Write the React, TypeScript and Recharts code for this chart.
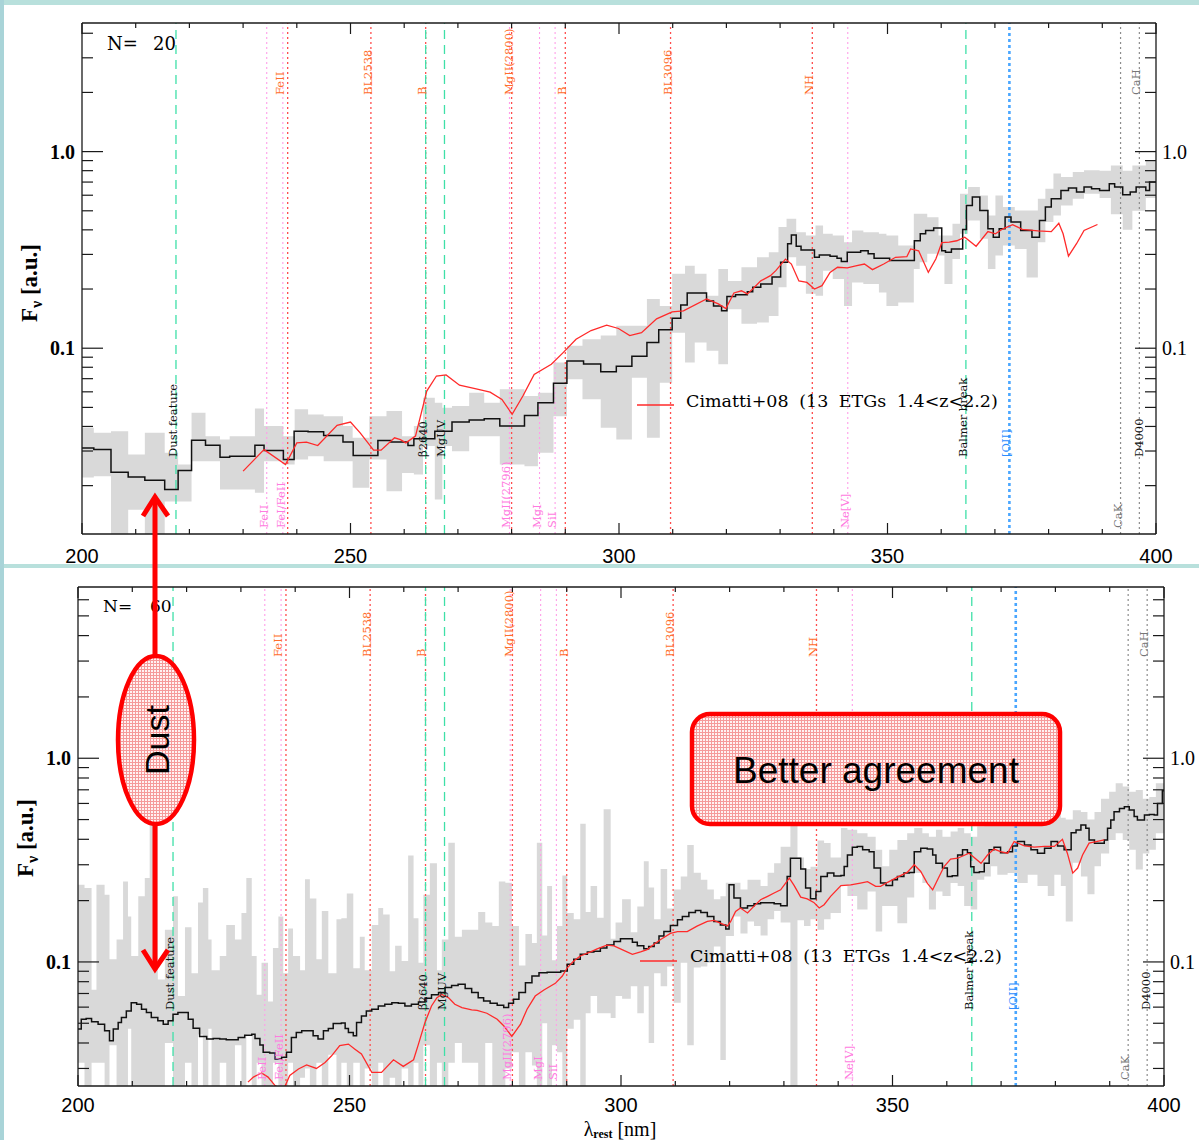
import React from "react";
import { ComposedChart, Area, Line, XAxis, YAxis, ReferenceLine } from "recharts";

const INK = "#1a1a1a";
const SERIF = "'DejaVu Serif', serif";
const TIMES = "'Liberation Serif', 'Times New Roman', serif";
const SANS = "'Liberation Sans', Arial, sans-serif";
const PAGE_W = 1199;

const waveTicks = [200, 210, 220, 230, 240, 250, 260, 270, 280, 290, 300, 310, 320, 330, 340, 350, 360, 370, 380, 390, 400];
const n20FluxTicks = [0.02, 0.03, 0.04, 0.05, 0.06, 0.07, 0.08, 0.09, 0.1, 0.2, 0.3, 0.4, 0.5, 0.6, 0.7, 0.8, 0.9, 1, 2, 3, 4];
const n60FluxTicks = [0.03, 0.04, 0.05, 0.06, 0.07, 0.08, 0.09, 0.1, 0.2, 0.3, 0.4, 0.5, 0.6, 0.7, 0.8, 0.9, 1, 2, 3, 4, 5, 6];

// ---- N=20 stack: scatter band (bin start, low, high) ----
const n20BandNm = [
  200.0, 202.2, 205.4, 208.6, 211.7, 215.4, 217.9, 220.4, 223.0, 225.7,
  227.5, 232.2, 233.9, 237.5, 239.6, 242.1, 245.0, 248.6, 250.4, 253.5,
  256.7, 259.6, 261.8, 263.5, 265.7, 267.1, 268.9, 272.1, 274.9, 277.8,
  282.4, 284.9, 287.8, 290.3,
  293.2, 296.6, 299.5, 302.4, 305.2, 307.6, 309.9, 312.3, 314.1, 316.3,
  318.5, 320.3, 322.8, 325.7, 327.9, 329.7, 331.2, 333.0, 334.8, 336.6,
  338.0, 339.8, 341.9, 343.4, 345.5, 348.4, 349.8, 352.0, 354.9, 356.0,
  357.4, 359.5, 360.6, 362.1, 363.5, 365.0, 367.2, 368.7, 370.1, 371.5,
  373.7, 375.9, 378.0, 379.4, 380.9, 382.3, 384.5, 386.6, 389.5, 391.6,
  393.8, 395.6, 398.1,
];
const n20BandLow = [
  0.0220, 0.0223, 0.0110, 0.0151, 0.0110, 0.0166, 0.0166, 0.0266, 0.0266, 0.0191,
  0.0191, 0.0184, 0.0266, 0.0256, 0.0272, 0.0282, 0.0266, 0.0266, 0.0195, 0.0272,
  0.0187, 0.0232, 0.0228, 0.0318, 0.0170, 0.0318, 0.0299, 0.0357, 0.0357, 0.0256,
  0.0251, 0.0294, 0.0451, 0.0695,
  0.055, 0.0394, 0.0343, 0.0708, 0.0350, 0.0668, 0.120, 0.0845, 0.107, 0.097,
  0.0829, 0.158, 0.133, 0.135, 0.146, 0.204, 0.290, 0.263, 0.189, 0.185,
  0.248, 0.225, 0.164, 0.216, 0.212, 0.192, 0.164, 0.171, 0.253, 0.274,
  0.302, 0.296, 0.212, 0.284, 0.382, 0.446, 0.360, 0.253, 0.296, 0.333,
  0.320, 0.229, 0.346, 0.438, 0.473, 0.532, 0.576, 0.611, 0.58, 0.48,
  0.40, 0.50, 0.58,
];
const n20BandHigh = [
  0.0394, 0.0371, 0.0378, 0.0288, 0.0371, 0.0294, 0.0256, 0.0470, 0.0357, 0.0343,
  0.0357, 0.0493, 0.0402, 0.0357, 0.0489, 0.0460, 0.0451, 0.0402, 0.0350, 0.0451,
  0.0479, 0.0357, 0.0402, 0.0560, 0.0528, 0.0498, 0.0508, 0.0594, 0.0528, 0.0618,
  0.0571, 0.0594, 0.0845, 0.1028,
  0.111, 0.116, 0.130, 0.130, 0.178, 0.164, 0.239, 0.263, 0.239, 0.185,
  0.253, 0.220, 0.258, 0.290, 0.308, 0.413, 0.455, 0.389, 0.374, 0.421,
  0.382, 0.374, 0.346, 0.397, 0.389, 0.382, 0.374, 0.333, 0.483, 0.483,
  0.464, 0.374, 0.374, 0.429, 0.611, 0.661, 0.598, 0.473, 0.598, 0.522,
  0.502, 0.502, 0.576, 0.648, 0.773, 0.743, 0.788, 0.803, 0.80, 0.85,
  0.80, 0.85, 0.90,
];

// ---- N=20 stacked spectrum (step start, flux) ----
const n20StackNm = [
  200.0, 202.2, 205.4, 208.6, 211.7, 215.4, 217.9, 220.4, 223.0, 225.7,
  227.5, 232.2, 233.9, 237.5, 239.5, 242.1, 245.0, 248.6, 250.5, 255.1,
  257.5, 260.7, 261.8, 265.7, 268.9, 272.1, 274.9, 277.8, 282.4, 284.9,
  287.8, 290.3, 293.4, 296.6, 299.5, 302.4, 305.2, 307.4, 309.9, 311.5,
  312.7, 316.3, 317.6, 319.1, 320.1, 321.7, 323.9, 324.9, 326.4, 328.5,
  330.1, 331.4, 332.1, 333.0, 333.9, 336.4, 337.3, 339.3, 340.6, 341.4,
  342.5, 345.0, 346.4, 347.5, 350.4, 355.0, 356.1, 357.1, 358.6, 360.1,
  360.8, 361.9, 364.0, 364.7, 365.8, 367.2, 368.7, 369.7, 370.8, 371.9,
  373.0, 374.8, 376.9, 378.3, 379.4, 380.5, 382.3, 383.7, 385.2, 386.6,
  388.0, 389.5, 391.3, 392.3, 393.8, 395.2, 396.3, 398.1, 398.8,
];
const n20StackFlux = [
  0.0311, 0.0305, 0.0234, 0.0221, 0.0213, 0.0191, 0.0239, 0.0340, 0.0321, 0.0279,
  0.0282, 0.0321, 0.0302, 0.0272, 0.0378, 0.0376, 0.0360, 0.0333, 0.0285, 0.0339,
  0.0333, 0.0320, 0.0346, 0.0378, 0.0421, 0.0431, 0.0438, 0.0402, 0.0455, 0.0528,
  0.0663, 0.0861, 0.083, 0.076, 0.081, 0.091, 0.107, 0.124, 0.142, 0.166,
  0.191, 0.174, 0.164, 0.155, 0.183, 0.187, 0.194, 0.204, 0.212, 0.230,
  0.274, 0.340, 0.377, 0.330, 0.316, 0.290, 0.298, 0.294, 0.287, 0.276,
  0.308, 0.313, 0.302, 0.287, 0.279, 0.352, 0.382, 0.397, 0.409, 0.313,
  0.308, 0.320, 0.402, 0.532, 0.587, 0.501, 0.405, 0.367, 0.405, 0.465,
  0.438, 0.397, 0.367, 0.446, 0.522, 0.575, 0.635, 0.653, 0.623, 0.661,
  0.648, 0.635, 0.687, 0.661, 0.604, 0.623, 0.661, 0.635, 0.700,
];

// ---- Cimatti+08 template, shown against the N=20 stack ----
const n20ModelNm = [
  230.0, 233.9, 237.9, 240.0, 241.8, 243.9, 247.5, 250.0, 251.8, 254.3,
  255.7, 258.2, 259.3, 260.3, 262.1, 263.2, 264.2, 266.0, 267.8, 270.3,
  273.2, 276.0, 278.2, 280.1, 282.1, 284.2, 287.4, 289.6, 292.0, 294.8,
  297.7, 299.9, 302.0, 304.2, 307.0, 309.9, 312.0, 316.3, 318.5, 319.9,
  321.4, 322.8, 323.9, 324.9, 326.4, 328.2, 329.2, 331.0, 332.1, 333.5,
  335.0, 336.4, 337.8, 339.3, 340.7, 342.5, 344.3, 345.7, 347.2, 349.3,
  351.5, 353.6, 354.3, 355.8, 357.6, 359.0, 360.1, 361.5, 362.9, 364.4,
  366.5, 368.7, 370.1, 371.5, 373.3, 375.1, 378.0, 380.5, 381.9, 382.7,
  383.7, 385.2, 386.6, 389.1,
];
const n20ModelFlux = [
  0.0237, 0.0305, 0.0256, 0.0330, 0.0333, 0.0320, 0.0405, 0.0421, 0.0371, 0.0303,
  0.0303, 0.0350, 0.0343, 0.0330, 0.0357, 0.0470, 0.0605, 0.0722, 0.0731, 0.0648,
  0.0623, 0.0598, 0.0549, 0.0461, 0.0571, 0.0736, 0.0828, 0.095, 0.111, 0.123,
  0.131, 0.126, 0.116, 0.120, 0.141, 0.153, 0.155, 0.178, 0.168, 0.159,
  0.191, 0.196, 0.189, 0.200, 0.220, 0.234, 0.248, 0.284, 0.268, 0.220,
  0.216, 0.200, 0.208, 0.243, 0.258, 0.256, 0.263, 0.268, 0.251, 0.268,
  0.290, 0.292, 0.320, 0.313, 0.243, 0.284, 0.344, 0.346, 0.352, 0.367,
  0.330, 0.392, 0.382, 0.405, 0.425, 0.402, 0.395, 0.392, 0.432, 0.382,
  0.294, 0.340, 0.397, 0.426,
];

// ---- N=60 stack: scatter band ----
const n60BandNm = [
  200.0, 201.2, 202.5, 203.4, 204.9, 205.8, 207.1, 208.3, 209.2, 209.8,
  211.1, 212.3, 213.2, 214.7, 216.0, 217.5, 218.4, 219.7, 220.9, 222.1,
  223.0, 224.0, 224.6, 226.1, 227.3, 228.9, 230.1, 231.0, 232.0, 232.9,
  233.8, 235.0, 235.9, 236.9, 237.8, 238.7, 239.6, 240.9, 241.8, 242.7,
  243.9, 244.9, 246.1, 247.6, 248.5, 249.5, 250.7, 251.9, 252.8, 254.1,
  255.3, 256.2, 257.4, 258.4, 259.6, 260.8, 261.8, 262.7, 263.6, 264.8,
  266.1, 267.0, 268.2, 269.4, 270.7, 273.7, 275.0, 276.3, 277.5, 278.7,
  279.9, 281.2, 282.4, 283.6, 284.5, 285.5, 286.4, 287.3, 288.2, 289.2,
  290.1, 291.3, 292.5, 293.5, 294.4, 295.6, 296.8, 298.1, 299.0, 300.2,
  301.8, 303.0, 304.2, 305.1, 306.1, 307.3, 308.5, 309.7, 311.0, 312.2,
  313.4, 314.7, 315.9, 317.1, 318.3, 319.3, 320.8, 322.0, 323.3, 324.5,
  325.7, 327.0, 328.2, 329.4, 331.2, 332.5, 333.7, 334.9, 336.2, 337.4,
  338.6, 340.5, 341.7, 343.5, 345.4, 346.9, 348.1, 349.4, 350.9, 352.7,
  354.0, 355.5, 356.7, 358.0, 359.2, 360.7, 362.0, 363.2, 364.4, 365.6,
  366.9, 368.1, 369.3, 371.2, 373.0, 374.9, 376.7, 378.6, 379.8, 381.0,
  381.9, 383.2, 384.7, 385.9, 387.2, 388.4, 389.9, 391.1, 392.4, 393.6,
  394.8, 396.1, 397.3, 398.5,
];
const n60BandLow = [
  0.032, 0.020, 0.032, 0.032, 0.020, 0.039, 0.020, 0.020, 0.047, 0.020,
  0.020, 0.020, 0.020, 0.020, 0.040, 0.020, 0.020, 0.032, 0.020, 0.044,
  0.020, 0.047, 0.020, 0.032, 0.020, 0.039, 0.020, 0.044, 0.020, 0.032,
  0.020, 0.020, 0.032, 0.020, 0.020, 0.032, 0.020, 0.027, 0.030, 0.020,
  0.032, 0.020, 0.035, 0.020, 0.032, 0.020, 0.032, 0.020, 0.030, 0.020,
  0.032, 0.020, 0.027, 0.020, 0.030, 0.020, 0.032, 0.020, 0.039, 0.020,
  0.032, 0.020, 0.032, 0.040, 0.032, 0.020, 0.040, 0.020, 0.020, 0.030,
  0.036, 0.020, 0.036, 0.031, 0.020, 0.050, 0.020, 0.039, 0.036, 0.020,
  0.047, 0.052, 0.020, 0.056, 0.068, 0.056, 0.056, 0.053, 0.068, 0.066,
  0.076, 0.056, 0.076, 0.040, 0.088, 0.076, 0.095, 0.063, 0.099, 0.039,
  0.094, 0.095, 0.099, 0.119, 0.033, 0.134, 0.167, 0.138, 0.158, 0.150,
  0.135, 0.162, 0.178, 0.156, 0.020, 0.160, 0.150, 0.162, 0.144, 0.162,
  0.174, 0.236, 0.211, 0.181, 0.222, 0.141, 0.188, 0.188, 0.155, 0.207,
  0.273, 0.244, 0.181, 0.222, 0.211, 0.244, 0.236, 0.188, 0.181, 0.253,
  0.263, 0.295, 0.268, 0.273, 0.244, 0.268, 0.236, 0.211, 0.268, 0.236,
  0.158, 0.307, 0.263, 0.215, 0.295, 0.341, 0.397, 0.428, 0.397, 0.355,
  0.284, 0.341, 0.355, 0.428,
];
const n60BandHigh = [
  0.239, 0.231, 0.073, 0.239, 0.214, 0.103, 0.129, 0.248, 0.167, 0.107,
  0.210, 0.258, 0.670, 0.082, 0.144, 0.210, 0.068, 0.148, 0.088, 0.196,
  0.231, 0.129, 0.091, 0.107, 0.152, 0.129, 0.174, 0.258, 0.107, 0.069,
  0.099, 0.064, 0.117, 0.167, 0.088, 0.146, 0.107, 0.091, 0.255, 0.205,
  0.103, 0.178, 0.088, 0.162, 0.164, 0.217, 0.093, 0.133, 0.091, 0.152,
  0.184, 0.171, 0.090, 0.120, 0.101, 0.333, 0.164, 0.099, 0.214, 0.305,
  0.091, 0.129, 0.385, 0.133, 0.144, 0.176, 0.156, 0.150, 0.248, 0.245,
  0.150, 0.096, 0.137, 0.124, 0.385, 0.135, 0.236, 0.102, 0.150, 0.266,
  0.174, 0.162, 0.477, 0.176, 0.236, 0.165, 0.562, 0.130, 0.156, 0.203,
  0.140, 0.187, 0.312, 0.232, 0.162, 0.286, 0.183, 0.227, 0.263, 0.375,
  0.274, 0.253, 0.227, 0.203, 0.210, 0.245, 0.245, 0.227, 0.253, 0.253,
  0.236, 0.274, 0.305, 0.368, 0.755, 0.326, 0.286, 0.293, 0.395, 0.384,
  0.326, 0.455, 0.446, 0.428, 0.412, 0.355, 0.295, 0.355, 0.397, 0.428,
  0.455, 0.428, 0.412, 0.446, 0.412, 0.437, 0.455, 0.428, 0.412, 0.463,
  0.540, 0.520, 0.510, 0.500, 0.500, 0.480, 0.556, 0.578, 0.589, 0.510,
  0.500, 0.556, 0.545, 0.500, 0.545, 0.633, 0.685, 0.753, 0.726, 0.685,
  0.698, 0.633, 0.646, 0.753,
];

// ---- N=60 stacked spectrum ----
const n60StackNm = [
  200.0, 200.6, 201.5, 202.5, 203.7, 204.9, 205.8, 206.5, 207.4, 208.0,
  208.9, 209.8, 210.8, 211.7, 212.6, 213.5, 214.7, 215.7, 216.6, 217.5,
  218.4, 219.7, 220.3, 221.2, 222.4, 223.7, 224.9, 226.1, 227.3, 228.6,
  229.5, 230.7, 232.0, 232.6, 233.5, 234.1, 235.3, 236.3, 237.5, 238.4,
  239.3, 240.2, 241.2, 242.4, 243.3, 244.2, 245.2, 246.1, 247.0, 248.5,
  249.2, 249.8, 250.7, 251.3, 252.2, 253.1, 254.1, 255.3, 256.5, 257.8,
  259.0, 260.2, 261.4, 262.7, 263.9, 265.1, 266.4, 267.6, 268.8, 270.0,
  271.3, 272.5, 273.7, 274.7, 275.9, 277.2, 278.4, 279.3, 280.2, 281.2,
  282.4, 283.6, 284.9, 286.4, 287.9, 288.9, 290.1, 291.3, 292.5, 293.8,
  295.0, 296.2, 297.4, 298.7, 299.9, 301.1, 302.1, 303.0, 304.2, 305.1,
  306.1, 307.0, 307.9, 309.1, 310.4, 311.3, 312.5, 313.7, 314.7, 315.9,
  317.1, 318.3, 319.3, 319.9, 320.8, 322.0, 323.3, 324.5, 325.7, 327.0,
  328.2, 329.4, 330.6, 331.2, 332.2, 333.1, 334.0, 334.9, 335.9, 336.8,
  338.0, 339.2, 340.5, 341.1, 341.7, 342.6, 343.5, 344.5, 345.7, 346.6,
  347.8, 348.8, 350.0, 350.9, 352.1, 353.1, 354.0, 355.2, 356.4, 357.4,
  358.0, 359.2, 360.1, 361.0, 362.0, 362.9, 363.8, 364.4, 365.0, 366.0,
  366.9, 367.8, 368.7, 369.9, 371.2, 372.1, 373.0, 374.3, 375.5, 376.7,
  378.0, 379.2, 380.4, 381.6, 382.9, 383.8, 384.7, 385.6, 386.2, 387.2,
  388.1, 389.0, 389.6, 390.2, 390.8, 391.8, 392.7, 393.6, 394.5, 395.1,
  396.4, 397.3, 398.2, 398.8, 399.7,
];
const n60StackFlux = [
  0.0468, 0.0523, 0.0527, 0.0508, 0.0495, 0.0459, 0.0410, 0.0468, 0.0504, 0.0533,
  0.0575, 0.0631, 0.0620, 0.0586, 0.0564, 0.0533, 0.0514, 0.0495, 0.0514, 0.0554,
  0.0564, 0.0564, 0.0523, 0.0473, 0.0431, 0.0418, 0.0421, 0.0418, 0.0415, 0.0415,
  0.0426, 0.0437, 0.0442, 0.0421, 0.0391, 0.0360, 0.0357, 0.0334, 0.0340, 0.0360,
  0.0426, 0.0451, 0.0459, 0.0459, 0.0434, 0.0418, 0.0459, 0.0471, 0.0499, 0.0501,
  0.0471, 0.0451, 0.0434, 0.0504, 0.0543, 0.0575, 0.0586, 0.0608, 0.0620, 0.0631,
  0.0627, 0.0608, 0.0620, 0.0636, 0.0664, 0.0691, 0.0707, 0.0748, 0.0767, 0.0776,
  0.0740, 0.0707, 0.0668, 0.0643, 0.0627, 0.0613, 0.0597, 0.0627, 0.0655, 0.0707,
  0.0791, 0.0853, 0.0885, 0.0891, 0.0891, 0.0902, 0.0973, 0.103, 0.109, 0.112,
  0.113, 0.117, 0.121, 0.126, 0.130, 0.130, 0.125, 0.120, 0.116, 0.119,
  0.124, 0.134, 0.141, 0.151, 0.161, 0.167, 0.175, 0.179, 0.175, 0.167,
  0.158, 0.152, 0.145, 0.239, 0.206, 0.184, 0.189, 0.193, 0.195, 0.195,
  0.193, 0.189, 0.263, 0.323, 0.323, 0.286, 0.231, 0.204, 0.222, 0.263,
  0.273, 0.264, 0.266, 0.294, 0.335, 0.366, 0.369, 0.355, 0.348, 0.289,
  0.244, 0.237, 0.253, 0.263, 0.273, 0.275, 0.348, 0.362, 0.358, 0.335,
  0.305, 0.289, 0.263, 0.265, 0.335, 0.355, 0.344, 0.293, 0.275, 0.277,
  0.305, 0.355, 0.366, 0.344, 0.348, 0.371, 0.390, 0.375, 0.355, 0.342,
  0.362, 0.390, 0.371, 0.355, 0.431, 0.444, 0.470, 0.453, 0.397, 0.383,
  0.383, 0.397, 0.453, 0.498, 0.546, 0.567, 0.578, 0.557, 0.517, 0.498,
  0.526, 0.530, 0.526, 0.600, 0.692,
];

// ---- Cimatti+08 template, shown against the N=60 stack ----
const n60ModelNm = [
  231.3, 232.3, 233.8, 235.0, 236.3, 237.8, 239.0, 240.6, 242.1, 243.9,
  245.5, 246.7, 248.2, 249.8, 251.0, 252.2, 254.1, 255.9, 258.1, 259.9,
  261.8, 262.7, 263.9, 265.1, 266.1, 267.0, 268.2, 269.4, 270.7, 272.5,
  273.5, 275.3, 277.2, 278.4, 279.9, 281.5, 282.7, 284.2, 285.8, 287.9,
  289.2, 290.1, 291.3, 292.5, 294.4, 295.6, 297.4, 298.7, 300.2, 302.1,
  303.6, 304.8, 306.1, 307.3, 309.1, 310.4, 312.2, 314.0, 315.9, 317.1,
  318.3, 319.6, 320.2, 321.1, 322.0, 323.3, 324.5, 325.7, 327.0, 328.2,
  329.4, 331.0, 331.9, 333.1, 334.3, 335.5, 336.5, 337.4, 338.6, 340.5,
  342.3, 344.1, 345.4, 346.9, 347.8, 349.1, 350.9, 352.7, 354.0, 355.2,
  356.4, 357.4, 358.3, 359.5, 360.7, 362.0, 364.1, 366.3, 367.5, 368.7,
  369.9, 371.2, 372.4, 374.3, 376.1, 378.0, 379.8, 381.3, 382.2, 383.2,
  384.1, 385.0, 386.2, 387.5, 389.0,
];
const n60ModelFlux = [
  0.0257, 0.0272, 0.0285, 0.0272, 0.0247, 0.0235, 0.0277, 0.0298, 0.0312, 0.0300,
  0.0321, 0.0346, 0.0388, 0.0395, 0.0373, 0.0353, 0.0287, 0.0287, 0.0331, 0.0307,
  0.0331, 0.0395, 0.0504, 0.0608, 0.0668, 0.0693, 0.0668, 0.0620, 0.0597, 0.0581,
  0.0579, 0.0560, 0.0523, 0.0486, 0.0431, 0.0495, 0.0586, 0.0680, 0.0728, 0.0785,
  0.0853, 0.0936, 0.101, 0.107, 0.112, 0.116, 0.121, 0.120, 0.115, 0.109,
  0.112, 0.115, 0.122, 0.129, 0.138, 0.141, 0.141, 0.150, 0.158, 0.160,
  0.155, 0.150, 0.158, 0.177, 0.184, 0.174, 0.188, 0.202, 0.210, 0.218,
  0.226, 0.258, 0.237, 0.208, 0.204, 0.196, 0.184, 0.191, 0.210, 0.237,
  0.239, 0.244, 0.248, 0.235, 0.235, 0.246, 0.261, 0.275, 0.300, 0.278,
  0.244, 0.226, 0.253, 0.294, 0.320, 0.323, 0.342, 0.305, 0.335, 0.358,
  0.348, 0.342, 0.390, 0.371, 0.366, 0.369, 0.369, 0.400, 0.342, 0.273,
  0.289, 0.335, 0.383, 0.390, 0.397,
];

// spectral features: marker lines and their rotated tags
const featureLines = [
  { nm: 217.5, kind: "dust" }, { nm: 234.4, kind: "pink" }, { nm: 237.4, kind: "pink" },
  { nm: 238.3, kind: "red" }, { nm: 253.8, kind: "red" }, { nm: 264.0, kind: "red" },
  { nm: 264.0, kind: "dust" }, { nm: 267.5, kind: "dust" }, { nm: 279.6, kind: "pink" },
  { nm: 280.0, kind: "red" }, { nm: 285.2, kind: "pink" }, { nm: 288.1, kind: "pink" },
  { nm: 290.0, kind: "red" }, { nm: 309.6, kind: "red" }, { nm: 336.0, kind: "red" },
  { nm: 342.6, kind: "pink" }, { nm: 364.6, kind: "dust" }, { nm: 372.7, kind: "blue" },
  { nm: 393.4, kind: "gray" }, { nm: 396.9, kind: "gray" },
];

const featureTags = [
  { nm: 217.5, text: "Dust feature", tone: "black", slot: "mid" },
  { nm: 234.4, text: "FeII", tone: "pink", slot: "low" },
  { nm: 237.4, text: "FeII", tone: "orange", slot: "top" },
  { nm: 237.6, text: "FeI/FeII", tone: "pink", slot: "low" },
  { nm: 253.8, text: "BL2538", tone: "orange", slot: "top" },
  { nm: 263.8, text: "B", tone: "orange", slot: "top" },
  { nm: 264.0, text: "β2640", tone: "black", slot: "mid" },
  { nm: 267.5, text: "MgUV", tone: "black", slot: "mid" },
  { nm: 280.0, text: "MgII(2800)", tone: "orange", slot: "top" },
  { nm: 279.6, text: "MgII(2796)", tone: "pink", slot: "low" },
  { nm: 285.2, text: "MgI", tone: "pink", slot: "low" },
  { nm: 288.1, text: "SiI", tone: "pink", slot: "low" },
  { nm: 290.0, text: "B", tone: "orange", slot: "top" },
  { nm: 309.6, text: "BL3096", tone: "orange", slot: "top" },
  { nm: 336.0, text: "NH", tone: "orange", slot: "top" },
  { nm: 342.6, text: "Ne[V]", tone: "pink", slot: "low" },
  { nm: 364.6, text: "Balmer break", tone: "black", slot: "mid" },
  { nm: 372.7, text: "[OII]", tone: "blue", slot: "mid" },
  { nm: 393.4, text: "CaK", tone: "gray", slot: "low" },
  { nm: 396.9, text: "CaH", tone: "gray", slot: "top" },
  { nm: 397.3, text: "D4000", tone: "black", slot: "mid" },
];

const LINE_STYLE: Record<string, { stroke: string; dash: string; width: number }> = {
  dust: { stroke: "#3fe0a8", dash: "9 6", width: 1.3 },
  red: { stroke: "#ff4d4d", dash: "2 3", width: 1.3 },
  pink: { stroke: "#ff9ee8", dash: "2 3", width: 1.1 },
  blue: { stroke: "#49a6ff", dash: "3 3", width: 2.6 },
  gray: { stroke: "#8c8c8c", dash: "2 3", width: 1.2 },
};
const TONE: Record<string, string> = {
  orange: "#ff6f2c", pink: "#ff7be0", black: "#111", blue: "#2d8cff", gray: "#777",
};

const stepRows = (nm: number[], flux: number[]) => [
  ...nm.map((x, i) => ({ nm: x, flux: flux[i] })),
  { nm: 400, flux: flux[flux.length - 1] },
];
const bandRows = (nm: number[], lo: number[], hi: number[]) => [
  ...nm.map((x, i) => ({ nm: x, range: [lo[i], hi[i]] })),
  { nm: 400, range: [lo[lo.length - 1], hi[hi.length - 1]] },
];
const curveRows = (nm: number[], flux: number[]) => nm.map((x, i) => ({ nm: x, flux: flux[i] }));

const isDecade = (v: number) => Math.abs(Math.log10(v) - Math.round(Math.log10(v))) < 1e-6;
const fmtFlux = (v: number) => (v >= 1 ? v.toFixed(1) : String(v));

function LeftTick({ x, y, payload }: any) {
  const major = isDecade(payload.value);
  return (
    <g>
      <line x1={x} x2={x + (major ? 21 : 11)} y1={y} y2={y} stroke={INK} strokeWidth={1.2} />
      {major && (
        <text x={x - 7} y={y} dy="0.35em" textAnchor="end" fontFamily={TIMES} fontWeight="bold" fontSize={20} fill="#000">
          {fmtFlux(payload.value)}
        </text>
      )}
    </g>
  );
}

function RightTick({ x, y, payload }: any) {
  const major = isDecade(payload.value);
  return (
    <g>
      <line x1={x} x2={x - (major ? 21 : 11)} y1={y} y2={y} stroke={INK} strokeWidth={1.2} />
      {major && (
        <text x={x + 6} y={y} dy="0.35em" textAnchor="start" fontFamily={TIMES} fontSize={20} fill="#000">
          {fmtFlux(payload.value)}
        </text>
      )}
    </g>
  );
}

function BottomTick({ x, y, payload, labelDy }: any) {
  const major = payload.value % 50 === 0;
  return (
    <g>
      <line x1={x} x2={x} y1={y} y2={y - (major ? 11 : 5)} stroke={INK} strokeWidth={1.2} />
      {major && (
        <text x={x} y={y + labelDy} textAnchor="middle" fontFamily={SANS} fontSize={20} fill="#000">
          {payload.value}
        </text>
      )}
    </g>
  );
}

function TopTick({ x, y, payload }: any) {
  const major = payload.value % 50 === 0;
  return <line x1={x} x2={x} y1={y} y2={y + (major ? 11 : 5)} stroke={INK} strokeWidth={1.2} />;
}

type PanelProps = {
  top: number;
  height: number;
  plotLeft: number;
  plotRight: number;
  plotTop: number;
  plotBottom: number;
  yDomain: [number, number];
  yTicks: number[];
  slots: { top: number; mid: number; low: number };
  labelDy: number;
  band: any[];
  stack: any[];
  model: any[];
};

function SpectrumPanel(p: PanelProps) {
  const margin = {
    left: p.plotLeft - 60,
    right: PAGE_W - p.plotRight - 30,
    top: p.plotTop - 10,
    bottom: p.height - p.plotBottom - 30,
  };
  const axisLine = { stroke: INK, strokeWidth: 1.3 };
  return (
    <div style={{ position: "absolute", left: 0, top: p.top, width: PAGE_W, height: p.height }}>
      <ComposedChart width={PAGE_W} height={p.height} margin={margin}>
        <XAxis xAxisId="b" dataKey="nm" type="number" domain={[200, 400]} allowDataOverflow ticks={waveTicks}
          interval={0} height={30} tickSize={0} tickMargin={0} axisLine={axisLine}
          tick={(t: any) => <BottomTick {...t} labelDy={p.labelDy} />} />
        <XAxis xAxisId="t" orientation="top" dataKey="nm" type="number" domain={[200, 400]} allowDataOverflow
          ticks={waveTicks} interval={0} height={10} tickSize={0} tickMargin={0} axisLine={axisLine}
          tick={(t: any) => <TopTick {...t} />} />
        <YAxis yAxisId="l" type="number" scale="log" domain={p.yDomain} allowDataOverflow ticks={p.yTicks}
          interval={0} width={60} tickSize={0} tickMargin={0} axisLine={axisLine}
          tick={(t: any) => <LeftTick {...t} />} />
        <YAxis yAxisId="r" orientation="right" type="number" scale="log" domain={p.yDomain} allowDataOverflow
          ticks={p.yTicks} interval={0} width={30} tickSize={0} tickMargin={0} axisLine={axisLine}
          tick={(t: any) => <RightTick {...t} />} />

        <Area xAxisId="b" yAxisId="l" data={p.band} dataKey="range" type="stepAfter" stroke="none"
          fill="#d9d9d9" fillOpacity={1} isAnimationActive={false} />

        {featureLines.map((f, i) => {
          const s = LINE_STYLE[f.kind];
          return (
            <ReferenceLine key={`fl${i}`} xAxisId="b" yAxisId="l" x={f.nm} stroke={s.stroke}
              strokeDasharray={s.dash} strokeWidth={s.width} />
          );
        })}

        <Line xAxisId="b" yAxisId="l" data={p.stack} dataKey="flux" type="stepAfter" stroke="#111"
          strokeWidth={1.5} dot={false} isAnimationActive={false} />
        <Line xAxisId="b" yAxisId="l" data={p.model} dataKey="flux" type="linear" stroke="#ff2a2a"
          strokeWidth={1.3} dot={false} isAnimationActive={false} />

        {featureTags.map((t, i) => (
          <ReferenceLine key={`ft${i}`} xAxisId="b" yAxisId="l" x={t.nm} stroke="none"
            label={(lp: any) => {
              const vb = lp.viewBox || {};
              const bottom = vb.y + vb.height;
              const y = t.slot === "top" ? vb.y + p.slots.top : t.slot === "mid" ? bottom - p.slots.mid : bottom - p.slots.low;
              return (
                <text transform={`translate(${vb.x + 1},${y}) rotate(-90)`} fill={TONE[t.tone]}
                  fontFamily={SERIF} fontSize={11.5}>
                  {t.text}
                </text>
              );
            }} />
        ))}
      </ComposedChart>
    </div>
  );
}

function Annotations() {
  const red = "#ff0000";
  return (
    <svg width={PAGE_W} height={1140} style={{ position: "absolute", left: 0, top: 0, pointerEvents: "none" }}>
      <defs>
        <pattern id="hatch" width="3" height="3" patternUnits="userSpaceOnUse">
          <rect width="3" height="3" fill="#fff2f2" />
          <rect width="3" height="1" fill="#f59a9a" />
          <rect width="1" height="3" fill="#f59a9a" />
        </pattern>
      </defs>

      {/* slide frame */}
      <rect x={0} y={0} width={PAGE_W} height={5} fill="#b8e0dc" />
      <rect x={0} y={564} width={PAGE_W} height={4} fill="#b8e0dc" />
      <rect x={0} y={0} width={4} height={1140} fill="#a9d4d8" />

      {/* panel counts */}
      <text x={107} y={50} fontFamily={SERIF} fontSize={18} fill="#000">N=</text>
      <text x={153} y={50} fontFamily={SERIF} fontSize={18} fill="#000">20</text>
      <text x={103} y={612} fontFamily={SERIF} fontSize={17} fill="#000">N=</text>
      <text x={150} y={612} fontFamily={SERIF} fontSize={17} fill="#000">60</text>

      {/* template legend */}
      <line x1={637} x2={674} y1={405} y2={405} stroke="#ff2a2a" strokeWidth={1.3} />
      <text x={686} y={407} fontFamily={SERIF} fontSize={17.5} wordSpacing={5} fill="#000">Cimatti+08 (13 ETGs 1.4&lt;z&lt;2.2)</text>
      <line x1={640} x2={677} y1={961} y2={961} stroke="#ff2a2a" strokeWidth={1.3} />
      <text x={690} y={962} fontFamily={SERIF} fontSize={17.5} wordSpacing={5} fill="#000">Cimatti+08 (13 ETGs 1.4&lt;z&lt;2.2)</text>

      {/* axis titles */}
      <text transform="translate(37,283) rotate(-90)" textAnchor="middle" fontFamily={TIMES} fontWeight="bold" fontSize={23}>
        <tspan>F</tspan><tspan fontSize={16} dy={5}>ν</tspan><tspan dy={-5}> [a.u.]</tspan>
      </text>
      <text transform="translate(33,838) rotate(-90)" textAnchor="middle" fontFamily={TIMES} fontWeight="bold" fontSize={23}>
        <tspan>F</tspan><tspan fontSize={16} dy={5}>ν</tspan><tspan dy={-5}> [a.u.]</tspan>
      </text>
      <text x={620} y={1136} textAnchor="middle" fontFamily={TIMES} fontSize={20}>
        <tspan>λ</tspan><tspan fontSize={12} fontWeight="bold" dy={2}>rest</tspan><tspan dy={-2}> [nm]</tspan>
      </text>

      {/* dust arrow */}
      <line x1={155} x2={155} y1={500} y2={966} stroke={red} strokeWidth={5} />
      <polyline points="143,516 155,497 168,516" fill="none" stroke={red} strokeWidth={5} strokeLinejoin="miter" />
      <polyline points="143,950 155,969 168,950" fill="none" stroke={red} strokeWidth={5} strokeLinejoin="miter" />
      <ellipse cx={156} cy={740} rx={38} ry={84} fill="url(#hatch)" stroke={red} strokeWidth={4.5} />
      <text transform="translate(169,740) rotate(-90)" textAnchor="middle" fontFamily={SANS} fontSize={34} fill="#000">Dust</text>

      {/* comparison callout */}
      <rect x={692} y={714} width={368} height={110} rx={18} fill="url(#hatch)" stroke={red} strokeWidth={4.5} />
      <text x={876} y={783} textAnchor="middle" fontFamily={SANS} fontSize={37} fill="#000">Better agreement</text>
    </svg>
  );
}

export default function App() {
  return (
    <div style={{ position: "absolute", left: 0, top: 0, width: PAGE_W, height: 1140, background: "#fff", overflow: "hidden" }}>
      <SpectrumPanel
        top={0} height={574} plotLeft={82} plotRight={1156} plotTop={23} plotBottom={534}
        yDomain={[0.01135, 4.51]} yTicks={n20FluxTicks} slots={{ top: 72, mid: 77, low: 6 }} labelDy={29}
        band={bandRows(n20BandNm, n20BandLow, n20BandHigh)}
        stack={stepRows(n20StackNm, n20StackFlux)}
        model={curveRows(n20ModelNm, n20ModelFlux)}
      />
      <SpectrumPanel
        top={565} height={575} plotLeft={78} plotRight={1164} plotTop={22} plotBottom={521}
        yDomain={[0.0246, 6.93]} yTicks={n60FluxTicks} slots={{ top: 70, mid: 76, low: 6 }} labelDy={26}
        band={bandRows(n60BandNm, n60BandLow, n60BandHigh)}
        stack={stepRows(n60StackNm, n60StackFlux)}
        model={curveRows(n60ModelNm, n60ModelFlux)}
      />
      <Annotations />
    </div>
  );
}
